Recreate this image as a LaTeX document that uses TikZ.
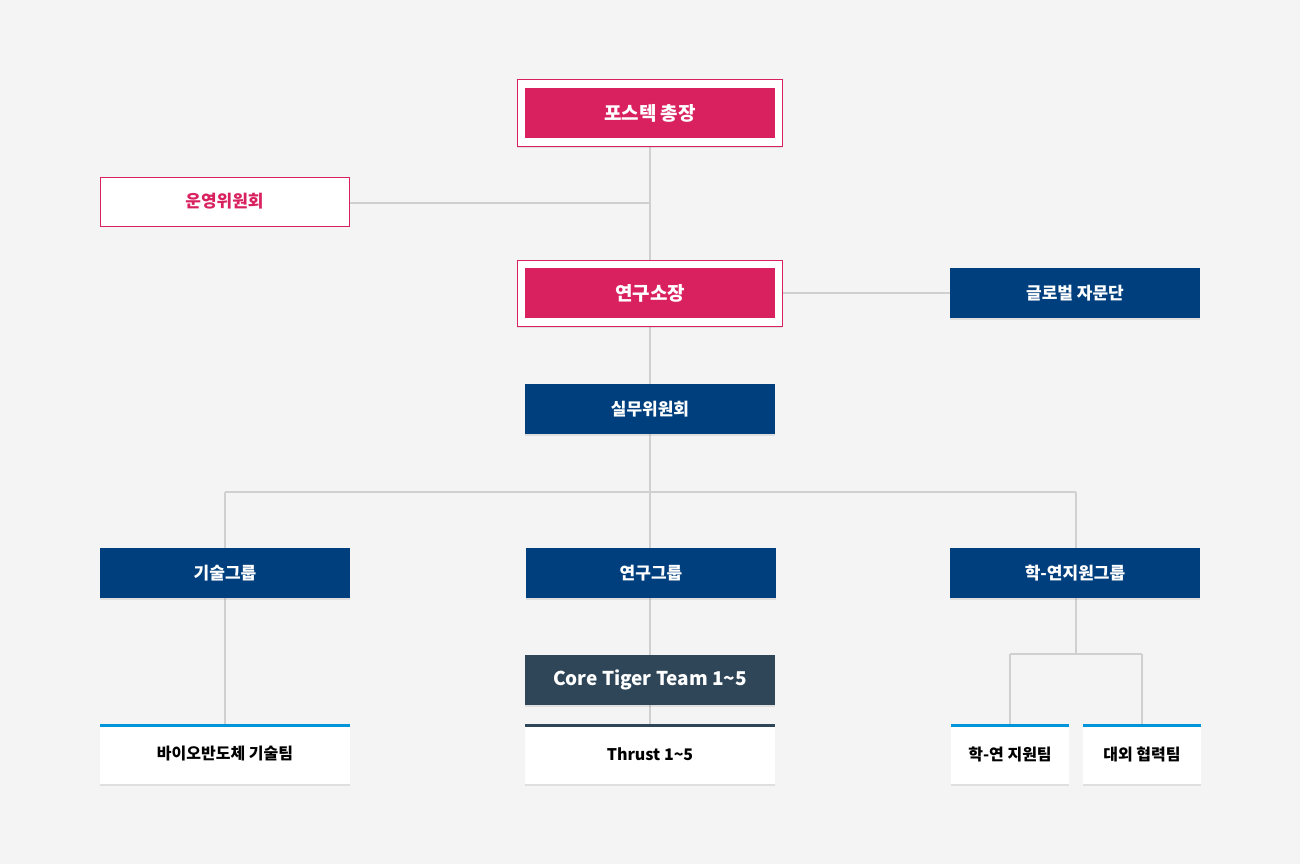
\documentclass[tikz,border=0pt]{standalone}
\usepackage{fontspec}
\setmainfont{Noto Sans CJK KR}
\usetikzlibrary{shadows}
\definecolor{bg}{HTML}{F4F4F4}
\definecolor{mag}{HTML}{D92160}
\definecolor{navy}{HTML}{003F7D}
\definecolor{slate}{HTML}{2E4657}
\definecolor{sky}{HTML}{0095DA}
\definecolor{ln}{HTML}{D0D0D0}
\begin{document}
\begin{tikzpicture}[x=1pt,y=-1pt,
  sh/.style={drop shadow={opacity=0.18,shadow xshift=0pt,shadow yshift=-2pt}},
  outer/.style={draw=mag,fill=white,line width=1pt,minimum width=265pt,minimum height=66pt,inner sep=0pt,sh},
  inner/.style={fill=mag,text=white,minimum width=250pt,minimum height=50pt,inner sep=0pt,font=\fontsize{19}{22}\selectfont\bfseries},
  navy/.style={fill=navy,text=white,minimum width=250pt,minimum height=50pt,inner sep=0pt,font=\fontsize{17}{20}\selectfont\bfseries,sh},
  white/.style={fill=white,text=black,minimum height=60pt,inner sep=0pt,font=\fontsize{16}{20}\selectfont\bfseries,sh},
  con/.style={draw=ln,line width=1.5pt}]
\fill[bg] (0,0) rectangle (1300,864);
\useasboundingbox (0,0) rectangle (1300,864);
% connectors first
\coordinate (j1) at (650,203);
\coordinate (j2) at (650,492);
\coordinate (jl) at (225,492);
\coordinate (jr) at (1076,492);
\coordinate (k) at (1076,654);
\coordinate (kl) at (1010,654);
\coordinate (kr) at (1142,654);
\draw[con] (650,146) -- (650,260);
\draw[con] (349,203) -- (j1);
\draw[con] (782,293) -- (950,293);
\draw[con] (650,326) -- (650,384);
\draw[con] (650,434) -- (j2);
\draw[con] (jl) -- (jr);
\draw[con] (jl) -- (225,548);
\draw[con] (j2) -- (650,548);
\draw[con] (jr) -- (1076,548);
\draw[con] (225,598) -- (225,724);
\draw[con] (650,598) -- (650,655);
\draw[con] (650,705) -- (650,724);
\draw[con] (1076,598) -- (k);
\draw[con] (kl) -- (kr);
\draw[con] (kl) -- (1010,724);
\draw[con] (kr) -- (1142,724);
% nodes
\node[outer] (po) at (649.5,113) {};
\node[inner] (pres) at (650,113) {포스텍 총장};
\node[draw=mag,fill=white,line width=1pt,minimum width=249pt,minimum height=49pt,inner sep=0pt,text=mag,font=\fontsize{17}{20}\selectfont\bfseries] (op) at (224.5,201.5) {운영위원회};
\node[outer] (do) at (649.5,293) {};
\node[inner] (dir) at (650,293) {연구소장};
\node[navy] (glob) at (1075,293) {글로벌 자문단};
\node[navy] (work) at (650,409) {실무위원회};
\node[navy] (tech) at (225,573) {기술그룹};
\node[navy] (res) at (651,573) {연구그룹};
\node[navy] (sup) at (1075,573) {학-연지원그룹};
\node[navy,fill=slate,font=\fontsize{19}{22}\selectfont\bfseries] (core) at (650,680) {Core Tiger Team 1\textasciitilde5};
\node[white,minimum width=250pt] (bio) at (225,754) {바이오반도체 기술팀};
\node[white,minimum width=250pt] (thr) at (650,754) {Thrust 1\textasciitilde5};
\node[white,minimum width=118pt] (t1) at (1010,754) {학-연 지원팀};
\node[white,minimum width=118pt] (t2) at (1142,754) {대외 협력팀};
\fill[sky] (100,724) rectangle (350,727);
\fill[slate] (525,724) rectangle (775,727);
\fill[sky] (951,724) rectangle (1069,727);
\fill[sky] (1083,724) rectangle (1201,727);
\end{tikzpicture}
\end{document}
